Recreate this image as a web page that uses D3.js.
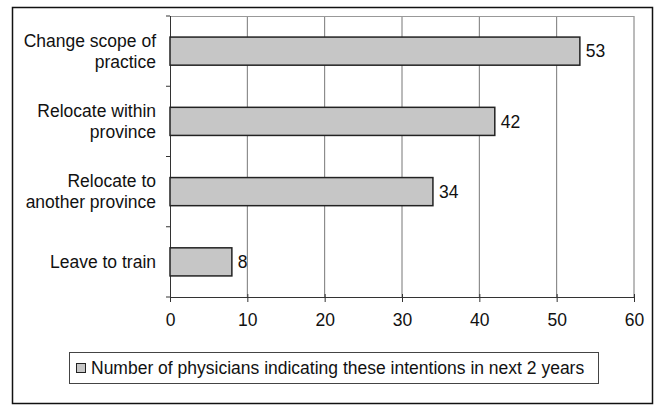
<!DOCTYPE html>
<html>
<head>
<meta charset="utf-8">
<script src="https://cdn.jsdelivr.net/npm/d3@7"></script>
<style>
  body { margin: 0; background: #fff; }
  text { font-family: "Liberation Sans", Arial, sans-serif; fill: #111; }
</style>
</head>
<body>
<svg width="660" height="406"></svg>
<script>
const categories = [
  ['Change scope of', 'practice'],
  ['Relocate within', 'province'],
  ['Relocate to', 'another province'],
  ['Leave to train']
];
const values = [53, 42, 34, 8];
const xTicks = [0, 10, 20, 30, 40, 50, 60];
const legendLabel = 'Number of physicians indicating these intentions in next 2 years';

const svg = d3.select('svg');
const margin = {top: 16, left: 170, right: 26, bottom: 109};
const width = +svg.attr('width');
const height = +svg.attr('height');
const innerWidth = width - margin.left - margin.right;
const innerHeight = height - margin.top - margin.bottom;
const fs = 17.5;

// outer frame
svg.append('rect')
  .attr('x', 12.5).attr('y', 7.5)
  .attr('width', 640).attr('height', 396)
  .attr('fill', '#fff').attr('stroke', '#111').attr('stroke-width', 1.5);

const xScale = d3.scaleLinear().domain([0, 60]).range([0, innerWidth]);
const yScale = d3.scaleBand()
  .domain(d3.range(categories.length))
  .range([0, innerHeight])
  .paddingInner(0.6)
  .paddingOuter(0.3);

const g = svg.append('g').attr('transform', `translate(${margin.left},${margin.top})`);

// gridlines
g.selectAll('.grid').data(xTicks.slice(1)).enter().append('line')
  .attr('x1', d => xScale(d)).attr('x2', d => xScale(d))
  .attr('y1', 0).attr('y2', innerHeight)
  .attr('stroke', '#777').attr('stroke-width', 1);
g.append('line').attr('x1', 0).attr('x2', innerWidth).attr('y1', 0.5).attr('y2', 0.5)
  .attr('stroke', '#999');

// y axis with ticks at band boundaries
const step = yScale.step();
const yEdges = d3.range(categories.length + 1).map(i => i === 0 ? 0 : i === categories.length ? innerHeight : yScale(i) - (yScale.paddingInner() * step) / 2);
g.append('line').attr('x1', 0.5).attr('x2', 0.5).attr('y1', 0).attr('y2', innerHeight).attr('stroke', '#333');
g.selectAll('.ytick').data(yEdges).enter().append('line')
  .attr('x1', -4).attr('x2', 0).attr('y1', d => d).attr('y2', d => d)
  .attr('stroke', '#333');

// x axis
const xAxis = d3.axisBottom(xScale).tickValues(xTicks).tickSize(5).tickPadding(12);
const xg = g.append('g').attr('transform', `translate(0,${innerHeight})`).call(xAxis);
xg.select('.domain').attr('stroke', '#333').attr('d', `M0,0.5H${innerWidth}`);
xg.selectAll('.tick line').attr('stroke', '#333').attr('y1', -3);
xg.selectAll('text').attr('font-size', fs).attr('fill', '#111')
  .style('font-family', '"Liberation Sans", Arial, sans-serif');

// bars
const bars = g.selectAll('.bar').data(values).enter().append('g');
bars.append('rect')
  .attr('x', 0)
  .attr('y', (d, i) => yScale(i))
  .attr('width', d => xScale(d))
  .attr('height', yScale.bandwidth())
  .attr('fill', '#c6c6c6').attr('stroke', '#222').attr('stroke-width', 1.5);
bars.append('text')
  .attr('x', d => xScale(d) + 6)
  .attr('y', (d, i) => yScale(i) + yScale.bandwidth() / 2)
  .attr('dy', '0.36em')
  .attr('font-size', fs)
  .text(d => d);

// category labels
categories.forEach((lines, i) => {
  const cy = yScale(i) + yScale.bandwidth() / 2;
  const lh = 21;
  const t = g.append('text').attr('text-anchor', 'end').attr('font-size', fs);
  lines.forEach((ln, j) => {
    t.append('tspan').attr('x', -14)
      .attr('y', cy + (j - (lines.length - 1) / 2) * lh)
      .attr('dy', '0.36em').text(ln);
  });
});

// legend
const lg = svg.append('g').attr('transform', 'translate(69,352)');
lg.append('rect').attr('x', 0.5).attr('y', 0.5).attr('width', 529).attr('height', 31)
  .attr('fill', '#fff').attr('stroke', '#444');
lg.append('rect').attr('x', 7.5).attr('y', 11.5).attr('width', 9).attr('height', 9)
  .attr('fill', '#c6c6c6').attr('stroke', '#222');
lg.append('text').attr('x', 22).attr('y', 16).attr('dy', '0.36em')
  .attr('font-size', fs).text(legendLabel);
</script>
</body>
</html>
